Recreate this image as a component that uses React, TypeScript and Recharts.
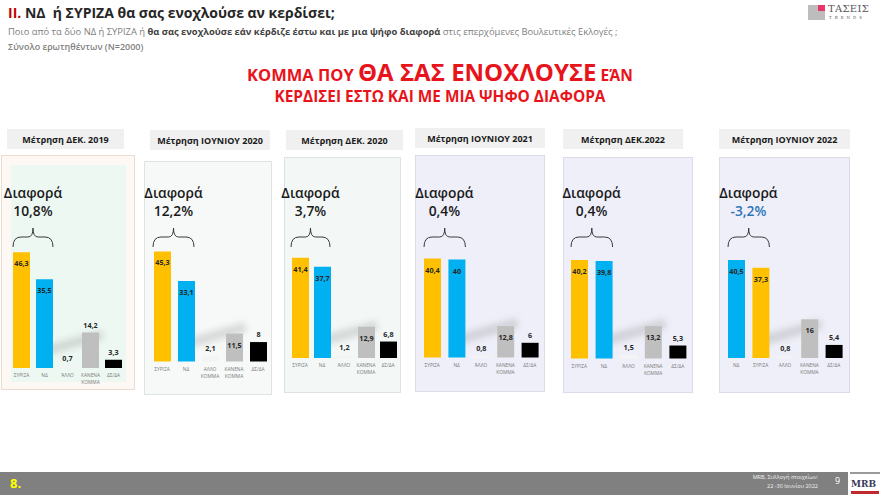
import { BarChart, Bar, XAxis, YAxis, Cell, LabelList } from 'recharts';

// survey waves
const periods = [
  'Μέτρηση ΔΕΚ. 2019',
  'Μέτρηση ΙΟΥΝΙΟΥ 2020',
  'Μέτρηση ΔΕΚ. 2020',
  'Μέτρηση ΙΟΥΝΙΟΥ 2021',
  'Μέτρηση ΔΕΚ.2022',
  'Μέτρηση ΙΟΥΝΙΟΥ 2022',
];

const catsDec2019 = ['ΣΥΡΙΖΑ', 'ΝΔ', 'ΆΛΛΟ', 'ΚΑΝΕΝΑ ΚΟΜΜΑ', 'ΔΣ/ΔΑ'];
const catsJun2020 = ['ΣΥΡΙΖΑ', 'ΝΔ', 'ΑΛΛΟ ΚΟΜΜΑ', 'ΚΑΝΕΝΑ ΚΟΜΜΑ', 'ΔΣ/ΔΑ'];
const catsDec2020 = ['ΣΥΡΙΖΑ', 'ΝΔ', 'ΆΛΛΟ', 'ΚΑΝΕΝΑ ΚΟΜΜΑ', 'ΔΣ/ΔΑ'];
const catsJun2021 = ['ΣΥΡΙΖΑ', 'ΝΔ', 'ΆΛΛΟ', 'ΚΑΝΕΝΑ ΚΟΜΜΑ', 'ΔΣ/ΔΑ'];
const catsDec2022 = ['ΣΥΡΙΖΑ', 'ΝΔ', 'ΆΛΛΟ', 'ΚΑΝΕΝΑ ΚΟΜΜΑ', 'ΔΣ/ΔΑ'];
const catsJun2022 = ['ΝΔ', 'ΣΥΡΙΖΑ', 'ΑΛΛΟ', 'ΚΑΝΕΝΑ ΚΟΜΜΑ', 'ΔΣ/ΔΑ'];

const valsDec2019 = [46.3, 35.5, 0.7, 14.2, 3.3];
const valsJun2020 = [45.3, 33.1, 2.1, 11.5, 8];
const valsDec2020 = [41.4, 37.7, 1.2, 12.9, 6.8];
const valsJun2021 = [40.4, 40, 0.8, 12.8, 6];
const valsDec2022 = [40.2, 39.8, 1.5, 13.2, 5.3];
const valsJun2022 = [40.5, 37.3, 0.8, 16, 5.4];

const allCats = [catsDec2019, catsJun2020, catsDec2020, catsJun2021, catsDec2022, catsJun2022];
const allVals = [valsDec2019, valsJun2020, valsDec2020, valsJun2021, valsDec2022, valsJun2022];

const FONT = '"Open Sans", "Noto Sans", sans-serif';
const BAR_W = 17;

const colorFor = (name: string) => {
  if (name === 'ΣΥΡΙΖΑ') return '#FFC000';
  if (name === 'ΝΔ') return '#00B0F0';
  if (name.startsWith('ΚΑΝΕΝΑ')) return '#BFBFBF';
  if (name === 'ΔΣ/ΔΑ') return '#000000';
  return '#f4f4f4';
};

const fmt = (v: number) => String(Math.round(v * 10) / 10).replace('.', ',');

// geometry of each panel on the slide
const layout = [
  { box: { x: 1, y: 155, w: 134, h: 235 }, bg: '#fdf8f4', border: '#eddcd2', inner: { x: 11, y: 165, w: 115, h: 217, bg: '#eef8f3' }, header: { x: 7, y: 129, w: 117 }, plotX: 10, plotW: 115, base: 368, scale: 2.5, insideMin: 20 },
  { box: { x: 144, y: 161, w: 128, h: 234 }, bg: '#f6f9f8', border: '#dfe4e3', header: { x: 150, y: 130, w: 120 }, plotX: 149.5, plotW: 120, base: 361, scale: 2.43, insideMin: 10 },
  { box: { x: 284, y: 157, w: 117, h: 236 }, bg: '#f3f8f7', border: '#dce3e2', header: { x: 286, y: 130, w: 117 }, plotX: 288.5, plotW: 110, base: 358, scale: 2.42, insideMin: 10 },
  { box: { x: 415, y: 155, w: 130, h: 237 }, bg: '#efeff9', border: '#dcdce8', header: { x: 415, y: 128, w: 130 }, plotX: 420, plotW: 122, base: 357, scale: 2.45, insideMin: 10 },
  { box: { x: 563, y: 157, w: 130, h: 236 }, bg: '#efeff9', border: '#dcdce8', header: { x: 563, y: 129, w: 120 }, plotX: 567, plotW: 123, base: 358, scale: 2.45, insideMin: 10 },
  { box: { x: 719, y: 157, w: 131, h: 236 }, bg: '#efeff9', border: '#dcdce8', header: { x: 719, y: 129, w: 131 }, plotX: 724, plotW: 122, base: 358, scale: 2.42, insideMin: 10 },
];

const CatTick = (props: any) => {
  const { x, y, payload } = props;
  const words = String(payload.value).split(' ');
  return (
    <g>
      {words.map((w: string, i: number) => (
        <text key={i} x={x} y={y + 9 + i * 7} textAnchor="middle" fontSize={4.8} fill="#7a7a7a" fontFamily={FONT}>
          {w}
        </text>
      ))}
    </g>
  );
};

const Brace = ({ x, y, w }: { x: number; y: number; w: number }) => {
  const m = w / 2;
  const d = `M1,20 Q1,10 9,10 L${m - 5},10 Q${m},10 ${m},1 Q${m},10 ${m + 5},10 L${w - 9},10 Q${w - 1},10 ${w - 1},20`;
  return (
    <svg style={{ position: 'absolute', left: x, top: y, overflow: 'visible' }} width={w} height={21}>
      <path d={d} fill="none" stroke="#3a3a3a" strokeWidth={1} />
    </svg>
  );
};

const Panel = ({ idx }: { idx: number }) => {
  const L = layout[idx];
  const cats = allCats[idx];
  const vals = allVals[idx];
  const data = cats.map((name, i) => ({ name, value: vals[i] }));
  const plotH = 50 * L.scale;
  const axisH = 26;
  const slot = L.plotW / 5;
  const braceX = L.plotX + (slot - BAR_W) / 2 - 1;
  const braceW = slot + BAR_W + 2;
  const centre = braceX + braceW / 2;
  const syriza = vals[cats.indexOf('ΣΥΡΙΖΑ')];
  const nd = vals[cats.indexOf('ΝΔ')];
  const diff = syriza - nd;

  const renderLabel = (p: any) => {
    const { x, y, width, value } = p;
    const inside = value >= L.insideMin;
    return (
      <text
        x={x + width / 2}
        y={inside ? y + 14 : y - 5}
        textAnchor="middle"
        fontSize={7.2}
        fontWeight={700}
        fill="#262626"
        fontFamily={FONT}
      >
        {fmt(value)}
      </text>
    );
  };

  return (
    <>
      <div style={{ position: 'absolute', left: L.header.x, top: L.header.y, width: L.header.w, height: 20, background: '#f0f0f0', fontFamily: FONT, fontSize: 9, fontWeight: 700, color: '#1a1a1a', display: 'flex', alignItems: 'center', justifyContent: 'center' }}>
        {periods[idx]}
      </div>
      <div style={{ position: 'absolute', left: L.box.x, top: L.box.y, width: L.box.w, height: L.box.h, background: L.bg, border: `1px solid ${L.border}`, boxSizing: 'border-box' }} />
      {L.inner && (
        <div style={{ position: 'absolute', left: L.inner.x, top: L.inner.y, width: L.inner.w, height: L.inner.h, background: L.inner.bg }} />
      )}
      {/* soft cast shadow behind the small bars */}
      <div style={{ position: 'absolute', left: L.plotX + slot * 1.5, top: L.base - 22, width: slot * 2.6, height: 10, background: 'rgba(90,90,90,0.2)', filter: 'blur(3px)', transform: 'rotate(-16deg)', transformOrigin: 'left center' }} />
      <div style={{ position: 'absolute', left: centre - 40, top: 184, width: 80, textAlign: 'center', fontFamily: FONT, fontWeight: 600, fontSize: 13.8, lineHeight: '18px', color: '#1a1a1a' }}>
        <div>Διαφορά</div>
        <div style={{ color: diff < 0 ? '#2e75b6' : '#1a1a1a' }}>{fmt(diff)}%</div>
      </div>
      <Brace x={braceX} y={227} w={braceW} />
      <div style={{ position: 'absolute', left: L.plotX, top: L.base - plotH }}>
        <BarChart width={L.plotW} height={plotH + axisH} data={data} margin={{ top: 0, right: 0, bottom: 0, left: 0 }} barSize={BAR_W}>
          <XAxis dataKey="name" axisLine={false} tickLine={false} tickSize={0} tickMargin={0} interval={0} height={axisH} tick={<CatTick />} />
          <YAxis hide domain={[0, 50]} />
          <Bar dataKey="value" isAnimationActive={false}>
            {data.map((d, i) => (
              <Cell key={i} fill={colorFor(d.name)} />
            ))}
            <LabelList dataKey="value" content={renderLabel} />
          </Bar>
        </BarChart>
      </div>
    </>
  );
};

export default function App() {
  return (
    <div style={{ position: 'absolute', left: 0, top: 0, width: 880, height: 495, overflow: 'hidden', background: '#fff', fontFamily: FONT }}>
      {/* slide heading */}
      <div style={{ position: 'absolute', left: 8, top: 3, fontSize: 14, fontWeight: 700, color: '#262626', whiteSpace: 'nowrap' }}>
        <span style={{ color: '#c00000' }}>II.</span> ΝΔ&nbsp; ή ΣΥΡΙΖΑ θα σας ενοχλούσε αν κερδίσει;
      </div>
      <div style={{ position: 'absolute', left: 8, top: 25, fontSize: 9.4, color: '#808080', whiteSpace: 'nowrap' }}>
        Ποιο από τα δύο ΝΔ ή ΣΥΡΙΖΑ ή <b style={{ color: '#404040' }}>θα σας ενοχλούσε εάν κέρδιζε έστω και με μια ψήφο διαφορά</b> στις επερχόμενες Βουλευτικές Εκλογές ;
      </div>
      <div style={{ position: 'absolute', left: 8, top: 40, fontSize: 9, fontWeight: 600, color: '#808080', whiteSpace: 'nowrap' }}>
        Σύνολο ερωτηθέντων (N=2000)
      </div>

      {/* logo */}
      <div style={{ position: 'absolute', left: 808, top: 5, width: 17, height: 15, background: '#bdbdbd' }} />
      <div style={{ position: 'absolute', left: 818, top: 5, width: 7, height: 6, background: '#e8336d' }} />
      <div style={{ position: 'absolute', left: 828, top: 3, fontFamily: '"DejaVu Serif", serif', fontSize: 10, color: '#555', letterSpacing: 0.3 }}>ΤΑΣΕΙΣ</div>
      <div style={{ position: 'absolute', left: 829, top: 15, fontFamily: '"DejaVu Serif", serif', fontSize: 4, color: '#555', letterSpacing: 3 }}>TRENDS</div>

      {/* red headline */}
      <div style={{ position: 'absolute', left: 0, width: 880, top: 58, height: 28, textAlign: 'center', color: '#e8141c', fontWeight: 700, whiteSpace: 'nowrap', lineHeight: '28px' }}>
        <span style={{ fontSize: 16.5 }}>ΚΟΜΜΑ ΠΟΥ </span>
        <span style={{ fontSize: 24 }}>ΘΑ ΣΑΣ ΕΝΟΧΛΟΥΣΕ</span>
        <span style={{ fontSize: 15.5 }}> ΕΆΝ</span>
      </div>
      <div style={{ position: 'absolute', left: 0, width: 880, top: 87, textAlign: 'center', color: '#e8141c', fontWeight: 700, fontSize: 15.4, lineHeight: '20px', whiteSpace: 'nowrap' }}>
        ΚΕΡΔΙΣΕΙ ΕΣΤΩ ΚΑΙ ΜΕ ΜΙΑ ΨΗΦΟ ΔΙΑΦΟΡΑ
      </div>

      {layout.map((_, i) => (
        <Panel key={i} idx={i} />
      ))}

      {/* footer */}
      <div style={{ position: 'absolute', left: 0, top: 472, width: 848, height: 23, background: '#808080' }} />
      <div style={{ position: 'absolute', left: 10, top: 474, fontSize: 13, fontWeight: 700, color: '#ffff00' }}>8.</div>
      <div style={{ position: 'absolute', right: 62, top: 473, fontSize: 5.5, lineHeight: '9px', color: '#f2f2f2', textAlign: 'right' }}>
        <div>MRB, Συλλογή στοιχείων:</div>
        <div>22 -30 Ιουνίου 2022</div>
      </div>
      <div style={{ position: 'absolute', left: 835, top: 474, fontSize: 9, color: '#fff' }}>9</div>
      <div style={{ position: 'absolute', left: 850, top: 472, width: 30, height: 23, background: '#fff', borderTop: '2px solid #9a9a9a', boxSizing: 'border-box' }} />
      <div style={{ position: 'absolute', left: 851, top: 479, fontFamily: '"DejaVu Serif", serif', fontSize: 9, fontWeight: 700, color: '#3a3a5a' }}>MRB</div>
      <div style={{ position: 'absolute', left: 851, top: 491, width: 28, height: 3, background: '#c0282d' }} />
    </div>
  );
}
